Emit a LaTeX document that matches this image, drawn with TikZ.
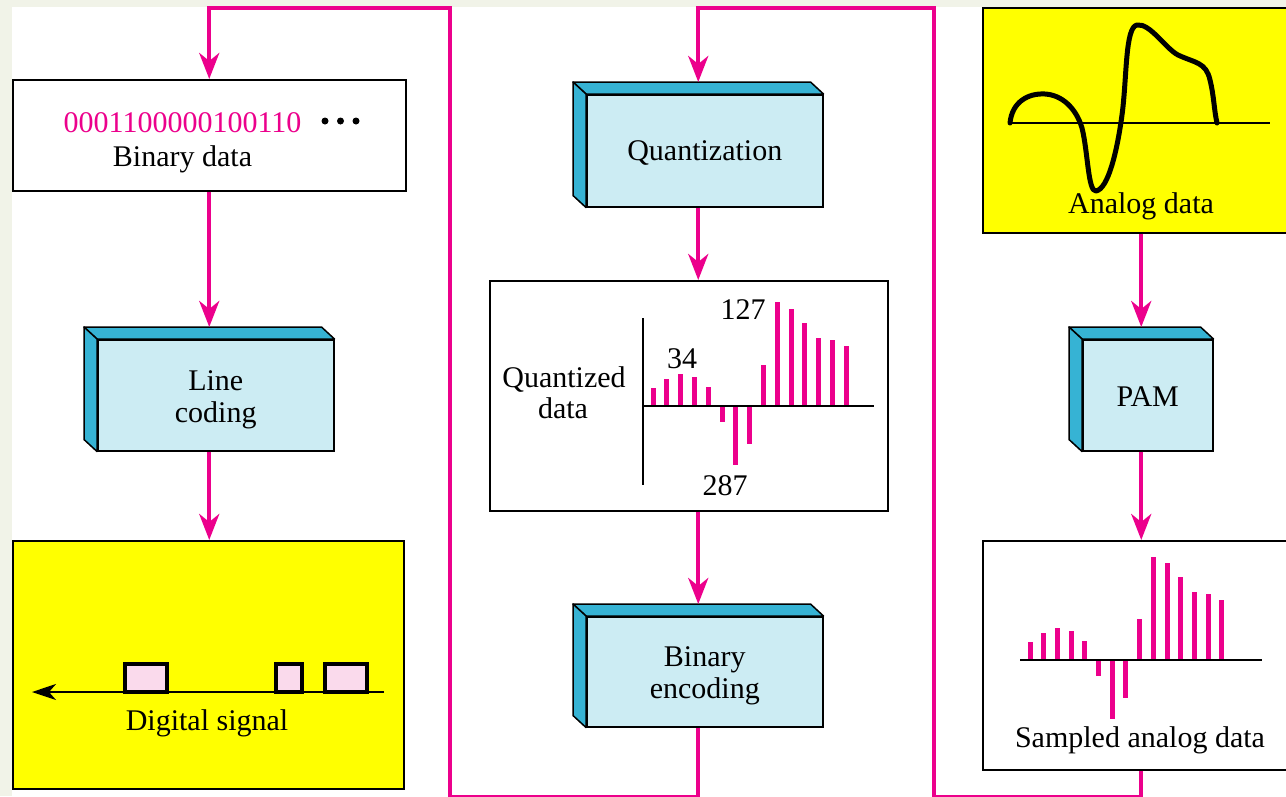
\documentclass[tikz,border=0pt]{standalone}
\usepackage{fontspec}
\setmainfont{Liberation Serif}
\usetikzlibrary{arrows.meta}
\definecolor{magline}{RGB}{236,0,140}
\definecolor{slabside}{RGB}{54,179,212}
\definecolor{slabfront}{RGB}{204,236,243}
\definecolor{signalbg}{RGB}{255,255,0}
\definecolor{pulsefill}{RGB}{250,218,236}
\definecolor{margin}{RGB}{241,243,232}
\begin{document}
\begin{tikzpicture}[x=1pt,y=-1pt,
  txt/.style={font=\fontsize{30}{32}\selectfont, inner sep=0pt, align=center},
  panel/.style={draw=black, line width=1.5pt, fill=white, inner sep=0pt, anchor=north west},
  slab/.style={draw=black, line width=1.5pt, fill=slabfront, inner sep=0pt, anchor=north west},
  slabface/.style={draw=black, line width=1.5pt, fill=slabside, line join=round},
  flow/.style={draw=magline, line width=4pt, line join=miter,
    -{Stealth[length=26pt,width=20pt,inset=8pt]}},
  bar/.style={draw=magline, line width=5pt},
  axis/.style={draw=black, line width=2.5pt},
  pulse/.style={draw=black, line width=4pt, fill=pulsefill},
  wave/.style={draw=black, line width=5pt, line cap=round, line join=round}
]
\useasboundingbox (0,0) rectangle (1286,796);
\fill[margin] (0,0) rectangle (1286,796);
\fill[white] (12,7) rectangle (1286,796);

% guide coordinates for the long return lines
\coordinate (topline) at (0,8);
\coordinate (bottomline) at (0,797);
\coordinate (colAB) at (450,0);
\coordinate (colBC) at (934,0);

% ---------- left column ----------
\node[panel, minimum width=393pt, minimum height=111pt] (bin) at (12,79) {};
\node[txt, text=magline, anchor=base] (bits) at (182.5,132) {0001100000100110};
\fill (325,121) circle (3.5pt) (340.5,121) circle (3.5pt) (356,121) circle (3.5pt);
\node[txt, anchor=base] (binlbl) at (182.5,166) {Binary data};

\node[slab, minimum width=236pt, minimum height=111pt] (lc) at (97,339) {};
\node[txt] (lclbl) at ([yshift=-5pt]lc.center) {Line\\coding};
\draw[slabface] (lc.north west) -- ++(-13,-12) -- ([shift={(-13,-12)}]lc.north east) -- (lc.north east) -- cycle;
\draw[slabface] (lc.north west) -- ++(-13,-12) -- ([shift={(-13,-12)}]lc.south west) -- (lc.south west) -- cycle;
\coordinate (lc-top) at ([shift={(-6.5,-12)}]lc.north);

\node[panel, fill=signalbg, minimum width=391pt, minimum height=248pt] (dig) at (12,540) {};
\coordinate (sigR) at (384,692);
\coordinate (sigL) at (32,692);
\draw[line width=2pt, -{Stealth[length=24pt,width=16pt,inset=7pt]}] (sigR) -- (sigL);
\draw[pulse] (125,664) rectangle (167,692);
\draw[pulse] (276,664) rectangle (302,692);
\draw[pulse] (325,664) rectangle (367,692);
\node[txt, anchor=base] (diglbl) at (207,730) {Digital signal};

\draw[flow] (bin.south) -- (lc-top);
\draw[flow] (lc-top |- lc.south) -- (lc-top |- dig.north);

% ---------- middle column ----------
\node[slab, minimum width=236pt, minimum height=112pt] (qz) at (586,94) {};
\node[txt] (qzlbl) at ([yshift=-2pt]qz.center) {Quantization};
\draw[slabface] (qz.north west) -- ++(-13,-12) -- ([shift={(-13,-12)}]qz.north east) -- (qz.north east) -- cycle;
\draw[slabface] (qz.north west) -- ++(-13,-12) -- ([shift={(-13,-12)}]qz.south west) -- (qz.south west) -- cycle;
\coordinate (qz-top) at ([shift={(-6.5,-12)}]qz.north);

\node[panel, minimum width=398pt, minimum height=230pt] (qd) at (489,280) {};
\foreach \v [count=\i from 0] in {-18,-27,-32,-29,-19,16,59,38,-41,-104,-97,-83,-68,-66,-60}
  \draw[bar] (653+13.8*\i,406) -- ++(0,\v);
\draw[axis] (643,318) -- (643,485);
\draw[axis] (643,406) -- (874,406);
\node[txt, anchor=base] (qdlbl) at (564,387) {Quantized};
\node[txt, anchor=base] (qdlbl2) at (563,418) {data};
\node[txt, anchor=base] (v127) at (743,319) {127};
\node[txt, anchor=base] (v34) at (682,368) {34};
\node[txt, anchor=base] (v287) at (725,495) {287};

\node[slab, minimum width=236pt, minimum height=110pt] (be) at (586,616) {};
\node[txt] (belbl) at ([yshift=-4pt]be.center) {Binary\\encoding};
\draw[slabface] (be.north west) -- ++(-13,-12) -- ([shift={(-13,-12)}]be.north east) -- (be.north east) -- cycle;
\draw[slabface] (be.north west) -- ++(-13,-12) -- ([shift={(-13,-12)}]be.south west) -- (be.south west) -- cycle;
\coordinate (be-top) at ([shift={(-6.5,-12)}]be.north);

\draw[flow] (qz-top |- qz.south) -- (qz-top |- qd.north);
\draw[flow] (qz-top |- qd.south) -- (be-top);

% ---------- right column ----------
\node[panel, fill=signalbg, minimum width=308pt, minimum height=225pt] (an) at (982,7) {};
\draw[line width=2pt] (1009,123) -- (1270,123);
\draw[wave] (1010,123) .. controls (1012,102) and (1028,93) .. (1045,94)
  .. controls (1062,95) and (1076,108) .. (1082,128)
  .. controls (1088,152) and (1088,192) .. (1096,191)
  .. controls (1108,189) and (1117,152) .. (1122,115)
  .. controls (1127,78) and (1125,27) .. (1137,25)
  .. controls (1150,23) and (1165,48) .. (1178,55)
  .. controls (1195,63) and (1206,62) .. (1210,80)
  .. controls (1214,96) and (1214,110) .. (1217,123);
\node[txt, anchor=base] (anlbl) at (1141,213) {Analog data};

\node[slab, minimum width=130pt, minimum height=111pt] (pam) at (1082,339) {};
\node[txt] (pamlbl) at ([yshift=-1pt]pam.center) {PAM};
\draw[slabface] (pam.north west) -- ++(-13,-12) -- ([shift={(-13,-12)}]pam.north east) -- (pam.north east) -- cycle;
\draw[slabface] (pam.north west) -- ++(-13,-12) -- ([shift={(-13,-12)}]pam.south west) -- (pam.south west) -- cycle;
\coordinate (pam-top) at ([shift={(-6.5,-12)}]pam.north);

\node[panel, minimum width=308pt, minimum height=229pt] (sa) at (982,540) {};
\foreach \v [count=\i from 0] in {-18,-27,-32,-29,-19,16,59,38,-41,-103,-97,-83,-68,-66,-60}
  \draw[bar] (1030+13.7*\i,660) -- ++(0,\v);
\draw[axis] (1020,660) -- (1262,660);
\node[txt, anchor=base] (salbl) at (1140,747) {Sampled analog data};

\draw[flow] (pam-top |- an.south) -- (pam-top);
\draw[flow] (pam-top |- pam.south) -- (pam-top |- sa.north);

% ---------- return paths ----------
\draw[flow] (pam-top |- sa.south) -- (pam-top |- bottomline) -| (colBC |- topline) -| (qz-top);
\draw[flow] (be-top |- be.south) -- (be-top |- bottomline) -| (colAB |- topline) -| (bin.north);
\end{tikzpicture}
\end{document}
